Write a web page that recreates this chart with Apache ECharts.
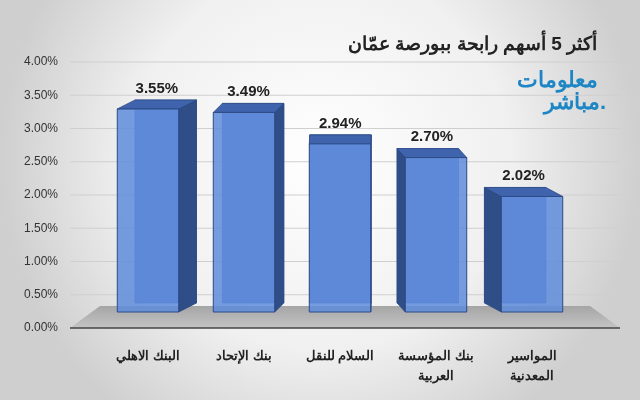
<!DOCTYPE html>
<html><head><meta charset="utf-8">
<script src="https://cdn.jsdelivr.net/npm/echarts@6/dist/echarts.min.js"></script>
<style>html,body{margin:0;padding:0}#c{width:640px;height:400px}</style>
</head><body><div id="c"></div>
<script>
const categories = ['البنك الاهلي', 'بنك الإتحاد', 'السلام للنقل', 'بنك المؤسسة\nالعربية', 'المواسير\nالمعدنية'];
const values = [3.55, 3.49, 2.94, 2.70, 2.02];
const titleText = 'أكثر 5 أسهم رابحة ببورصة عمّان';

const chart = echarts.init(document.getElementById('c'));
const FONT = 'Liberation Sans, Arial, sans-serif';
chart.setOption({
  backgroundColor: {type:'radial', x:0.5, y:0.4, r:0.8, colorStops:[{offset:0,color:'#ffffff'},{offset:0.6,color:'#f0f0f0'},{offset:1,color:'#cfcfcf'}]},
  title: {text: titleText, right: 38, top: 30, textStyle:{fontFamily:FONT, fontSize:19, fontWeight:'bold', color:'#222'}},
  graphic: [
    {type:'text', right:42, top:70, style:{text:'معلومات', font:'bold 22px '+FONT, fill:'#1d86c4'}},
    {type:'text', right:34, top:92, style:{text:'مباشر.', font:'bold 22px '+FONT, fill:'#1d86c4'}}
  ],
  grid: {left: 100, right: 60, top: 62, bottom: 72},
  xAxis: {type:'category', data:categories,
    axisLine:{show:false}, axisTick:{show:false},
    axisLabel:{interval:0, fontFamily:FONT, fontSize:13, fontWeight:'bold', color:'#222', margin:18, lineHeight:20}},
  yAxis: {type:'value', min:0, max:4, interval:0.5,
    axisLabel:{formatter: v => v.toFixed(2)+'%', fontFamily:FONT, fontSize:12, color:'#333', margin:42},
    axisLine:{show:false}, axisTick:{show:false},
    splitLine:{show:false}},
  series: [
    {type:'custom', silent:true, z:1, data:[0],
     renderItem:(p, api) => {
       const xs = 70, xe = 620;
       const ch = [];
       for (let k = 1; k <= 8; k++) {
         const y = api.coord([0, k*0.5])[1];
         ch.push({type:'line', shape:{x1:xs,y1:y,x2:xe,y2:y}, style:{stroke:'#cfcfcf', lineWidth:1}});
       }
       const y0 = api.coord([0,0])[1];
       ch.push({type:'polygon', shape:{points:[[xs,y0],[xe,y0],[xe-30,y0-22],[xs+30,y0-22]]},
         style:{fill:{type:'linear',x:0,y:0,x2:0,y2:1,colorStops:[{offset:0,color:'#a5a5a5'},{offset:1,color:'#c4c4c4'}]}}});
       ch.push({type:'line', shape:{x1:xs,y1:y0,x2:xe,y2:y0}, style:{stroke:'#444', lineWidth:1.5}});
       return {type:'group', children:ch};
     }},
    {type:'custom', z:2, data: values.map((v,i)=>[i,v]),
     renderItem:(p, api) => {
       const i = api.value(0), v = api.value(1);
       const c0 = api.coord([i, 0]);
       const cv = api.coord([i, v]);
       const y0 = c0[1] - 16;
       const ty = y0 - (c0[1] - cv[1]) * 0.86;
       const w = api.size([1,0])[0] * 0.64;
       const cx = cv[0];
       const xl = cx - w/2, xr = cx + w/2;
       const dx = (345 - cx) * 0.09, dy = -9;
       const stroke = '#2c4a85';
       const sideX = dx >= 0 ? xr : xl;
       const children = [
         {type:'polygon', shape:{points:[[xl+dx,ty+dy],[xr+dx,ty+dy],[xr+dx,y0+dy],[xl+dx,y0+dy]]}, style:{fill:'#5277c4', stroke:stroke, lineWidth:0.6}},
         {type:'polygon', shape:{points:[[sideX,ty],[sideX+dx,ty+dy],[sideX+dx,y0+dy],[sideX,y0]]}, style:{fill:'#2f4d86', stroke:stroke, lineWidth:0.8}},
         {type:'polygon', shape:{points:[[xl,ty],[xr,ty],[xr+dx,ty+dy],[xl+dx,ty+dy]]}, style:{fill:'#3f64ad', stroke:stroke, lineWidth:0.8}},
         {type:'rect', shape:{x:xl, y:ty, width:w, height:y0-ty}, style:{fill:'rgba(95,140,220,0.85)', stroke:stroke, lineWidth:1}},
         {type:'text', x:cx+dx/2, y:ty+dy-4, style:{text:v.toFixed(2)+'%', font:'bold 15px '+FONT, fill:'#222', align:'center', verticalAlign:'bottom'}}
       ];
       return {type:'group', children};
     }}
  ]
});
</script></body></html>
